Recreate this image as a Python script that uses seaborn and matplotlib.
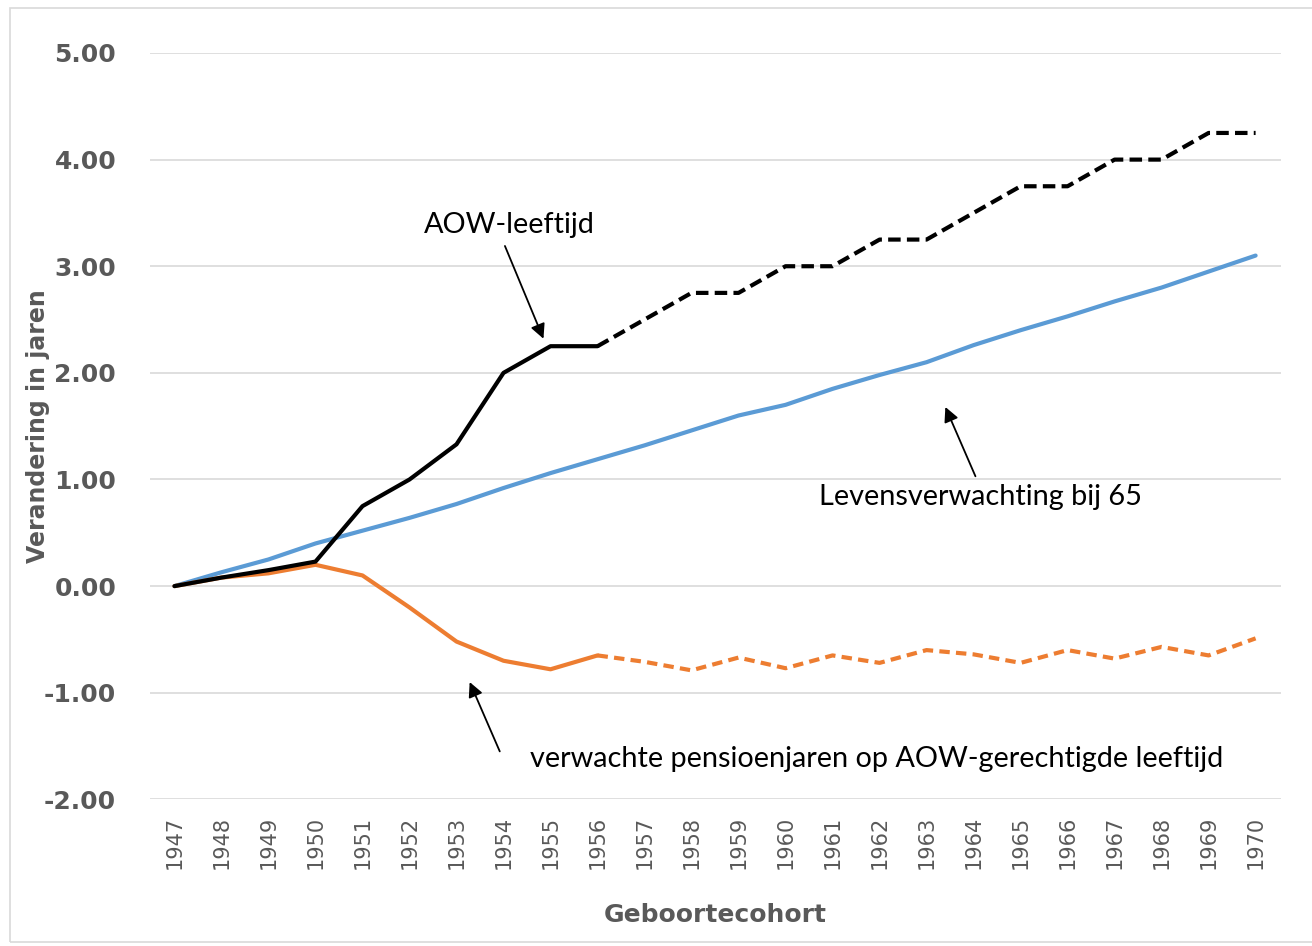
import matplotlib
matplotlib.use("Agg")
import matplotlib.pyplot as plt
import numpy as np
import pandas as pd
import seaborn as sns
from matplotlib.patches import Rectangle

years = list(range(1947, 1971))
aow_leeftijd = [0.00, 0.08, 0.15, 0.23, 0.75, 1.00, 1.33, 2.00, 2.25, 2.25,
                2.50, 2.75, 2.75, 3.00, 3.00, 3.25, 3.25, 3.50, 3.75, 3.75,
                4.00, 4.00, 4.25, 4.25]
levensverwachting = [0.00, 0.13, 0.25, 0.40, 0.52, 0.64, 0.77, 0.92, 1.06, 1.19,
                     1.32, 1.46, 1.60, 1.70, 1.85, 1.98, 2.10, 2.26, 2.40, 2.53,
                     2.67, 2.80, 2.95, 3.10]
pensioenjaren = [0.00, 0.08, 0.12, 0.20, 0.10, -0.20, -0.52, -0.70, -0.78, -0.65,
                 -0.71, -0.79, -0.67, -0.77, -0.65, -0.72, -0.60, -0.64, -0.72, -0.60,
                 -0.68, -0.57, -0.65, -0.49]
split_year = 1956  # solid up to here, dashed after (projection)

df = pd.DataFrame({"jaar": years, "aow": aow_leeftijd,
                   "lev": levensverwachting, "pens": pensioenjaren})
hist = df[df["jaar"] <= split_year]
proj = df[df["jaar"] >= split_year]

sns.set_style("white")
plt.rcParams["font.family"] = ["DejaVu Sans"]

fig = plt.figure(figsize=(13.12, 9.46), dpi=100)
ax = fig.add_axes([0.114, 0.155, 0.862, 0.789])

grey = "#595959"
blue = "#5B9BD5"
orange = "#ED7D31"

sns.lineplot(data=df, x="jaar", y="lev", color=blue, lw=3, ax=ax)
sns.lineplot(data=hist, x="jaar", y="pens", color=orange, lw=3, ax=ax)
sns.lineplot(data=proj, x="jaar", y="pens", color=orange, lw=3, ax=ax,
             linestyle=(0, (2.5, 1.5)))
sns.lineplot(data=hist, x="jaar", y="aow", color="black", lw=3, ax=ax)
sns.lineplot(data=proj, x="jaar", y="aow", color="black", lw=3, ax=ax,
             linestyle=(0, (3, 1.5)))

ax.set_xlim(1946.47, 1970.53)
ax.set_ylim(-2, 5)
ax.set_yticks(np.arange(-2, 6, 1))
ax.set_yticklabels([f"{v:.2f}" for v in np.arange(-2, 6, 1)],
                   fontsize=18, fontweight="bold", color=grey)
ax.set_xticks(years)
ax.set_xticklabels([str(y) for y in years], rotation=90, fontsize=15, color=grey)
ax.tick_params(axis="x", length=0, pad=12)
ax.tick_params(axis="y", length=0, pad=24)
ax.yaxis.grid(True, color="#D9D9D9", lw=1.2)
ax.xaxis.grid(False)
for s in ax.spines.values():
    s.set_visible(False)

ax.set_xlabel("Geboortecohort", fontsize=18, fontweight="bold", color=grey,
              labelpad=24)
ax.set_ylabel("Verandering in jaren", fontsize=17, fontweight="bold", color=grey,
              labelpad=-4)

arrow = dict(arrowstyle="-|>", color="black", lw=1.3, mutation_scale=22,
             shrinkA=0, shrinkB=0)
txt_font = dict(fontsize=20.8, family="Lato", color="black")

# (text, text position, arrow tail, arrow head, alignment)
notes = [
    ("AOW-leeftijd", (1954.13, 3.39), (1954.03, 3.19), (1954.85, 2.32), "center"),
    ("Levensverwachting bij 65", (1964.14, 0.84), (1964.04, 1.03), (1963.4, 1.68), "center"),
    ("verwachte pensioenjaren op AOW-gerechtigde leeftijd", (1954.56, -1.62),
     (1953.92, -1.55), (1953.28, -0.90), "left"),
]
for label, pos, tail, head, ha in notes:
    ax.text(pos[0], pos[1], label, ha=ha, va="center", **txt_font)
    ax.annotate("", xy=head, xytext=tail, arrowprops=arrow)

fig.patches.append(Rectangle((0.008, 0.004), 1.0, 0.988, transform=fig.transFigure,
                             fill=False, edgecolor="#D9D9D9", lw=1.2))

fig.savefig("out.png", dpi=100)
